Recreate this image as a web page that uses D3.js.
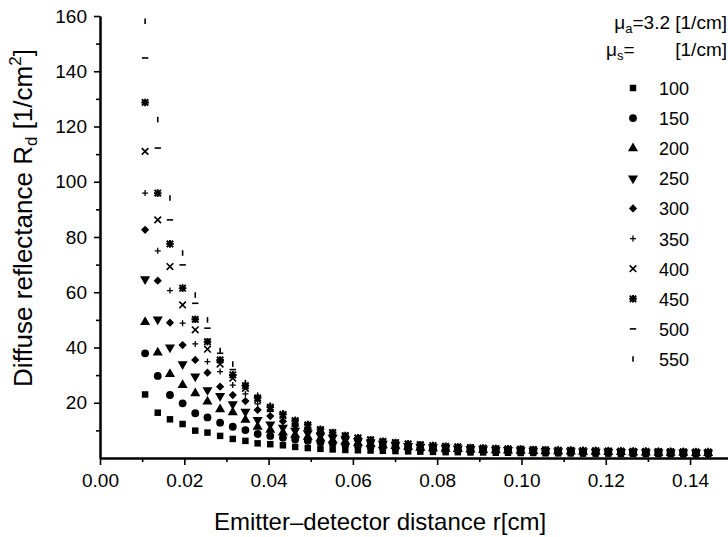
<!DOCTYPE html>
<html>
<head>
<meta charset="utf-8">
<script src="https://cdnjs.cloudflare.com/ajax/libs/d3/7.8.5/d3.min.js"></script>
<style>
  body { margin: 0; background: #fff; }
  text { font-family: "Liberation Sans", Arial, sans-serif; fill: #000; }
</style>
</head>
<body>
<svg id="chart" width="728" height="537"></svg>
<script>
// emitter-detector distance r [cm]
var rValues = [0.0107, 0.0137, 0.0166, 0.0196, 0.0226, 0.0255, 0.0285, 0.0315, 0.0345, 0.0374,
               0.0404, 0.0434, 0.0463, 0.0493, 0.0523, 0.0552, 0.0582, 0.0612, 0.0642, 0.0671,
               0.0701, 0.0731, 0.0760, 0.0790, 0.0820, 0.0849, 0.0879, 0.0909, 0.0939, 0.0968,
               0.0998, 0.1028, 0.1057, 0.1087, 0.1117, 0.1146, 0.1176, 0.1206, 0.1236, 0.1265,
               0.1295, 0.1325, 0.1354, 0.1384, 0.1414, 0.1443];

// diffuse reflectance Rd [1/cm^2], one array per mu_s
var rd100 = [23.0, 16.4, 14.0, 12.3, 9.9, 9.2, 8.0, 6.9, 6.2, 5.3, 5.0, 4.6, 4.0, 3.6, 3.3, 3.1, 2.9, 2.8, 2.7, 2.6,
             2.5, 2.4, 2.3, 2.2, 2.1, 2.1, 2.0, 2.0, 1.9, 1.9, 1.8, 1.8, 1.7, 1.7, 1.7, 1.6, 1.6, 1.6, 1.5, 1.5,
             1.5, 1.5, 1.4, 1.4, 1.4, 1.4];
var rd150 = [37.9, 29.7, 22.8, 19.8, 16.2, 14.7, 12.8, 11.3, 10.1, 8.7, 8.0, 7.3, 6.7, 6.2, 5.7, 5.3, 4.9, 4.5, 4.2, 3.9,
             3.7, 3.5, 3.3, 3.1, 2.9, 2.8, 2.7, 2.6, 2.5, 2.4, 2.3, 2.2, 2.2, 2.1, 2.0, 2.0, 1.9, 1.9, 1.9, 1.8,
             1.8, 1.7, 1.7, 1.7, 1.6, 1.6];
var rd200 = [49.2, 38.2, 30.4, 26.4, 23.4, 20.4, 17.6, 16.5, 13.8, 11.3, 10.2, 9.2, 8.4, 7.7, 7.0, 6.4, 5.9, 5.4, 5.0, 4.6,
             4.3, 4.0, 3.7, 3.5, 3.3, 3.2, 3.0, 2.9, 2.8, 2.7, 2.6, 2.5, 2.4, 2.4, 2.3, 2.2, 2.2, 2.1, 2.1, 2.0,
             2.0, 1.9, 1.9, 1.9, 1.8, 1.8];
var rd250 = [64.7, 50.2, 40.0, 34.0, 29.5, 24.6, 22.5, 19.5, 16.8, 13.8, 12.2, 11.0, 9.9, 9.0, 8.1, 7.4, 6.7, 6.1, 5.6, 5.2,
             4.8, 4.4, 4.1, 3.9, 3.7, 3.5, 3.3, 3.2, 3.0, 2.9, 2.8, 2.7, 2.6, 2.5, 2.5, 2.4, 2.3, 2.3, 2.2, 2.2,
             2.1, 2.1, 2.0, 2.0, 1.9, 1.9];
var rd300 = [82.6, 64.2, 49.0, 40.9, 35.5, 30.9, 25.8, 22.8, 20.6, 17.4, 15.2, 13.3, 11.6, 10.4, 9.2, 8.2, 7.3, 6.6, 6.0, 5.5,
             5.1, 4.7, 4.4, 4.1, 3.9, 3.7, 3.5, 3.3, 3.2, 3.0, 2.9, 2.8, 2.7, 2.6, 2.6, 2.5, 2.4, 2.4, 2.3, 2.3,
             2.2, 2.2, 2.1, 2.1, 2.0, 2.0];
var rd350 = [95.9, 75.0, 60.6, 48.8, 41.3, 34.9, 31.3, 26.4, 23.2, 19.6, 16.9, 14.6, 12.6, 11.2, 9.8, 8.7, 7.7, 6.9, 6.3, 5.8,
             5.3, 4.9, 4.6, 4.3, 4.0, 3.8, 3.6, 3.4, 3.3, 3.1, 3.0, 2.9, 2.8, 2.7, 2.6, 2.6, 2.5, 2.4, 2.4, 2.3,
             2.3, 2.2, 2.2, 2.1, 2.1, 2.0];
var rd400 = [111.0, 86.2, 69.3, 55.4, 46.4, 39.4, 34.0, 28.9, 25.2, 21.1, 17.9, 15.4, 13.2, 11.7, 10.1, 9.0, 7.9, 7.1, 6.5, 5.9,
             5.5, 5.0, 4.7, 4.4, 4.1, 3.9, 3.7, 3.5, 3.4, 3.2, 3.1, 3.0, 2.9, 2.8, 2.7, 2.6, 2.6, 2.5, 2.4, 2.4,
             2.3, 2.3, 2.2, 2.2, 2.1, 2.1];
var rd450 = [128.7, 95.9, 77.5, 61.5, 50.2, 42.1, 35.5, 30.1, 26.2, 21.8, 18.4, 15.8, 13.5, 12.0, 10.3, 9.2, 8.1, 7.3, 6.6, 6.0,
             5.6, 5.1, 4.8, 4.5, 4.2, 4.0, 3.8, 3.6, 3.4, 3.3, 3.2, 3.0, 2.9, 2.8, 2.8, 2.7, 2.6, 2.5, 2.5, 2.4,
             2.4, 2.3, 2.3, 2.2, 2.2, 2.1];
var rd500 = [144.8, 112.2, 86.2, 69.9, 56.0, 47.0, 37.9, 32.0, 26.8, 22.3, 18.8, 16.1, 13.8, 12.3, 10.5, 9.3, 8.2, 7.4, 6.7, 6.1,
             5.7, 5.2, 4.9, 4.6, 4.3, 4.1, 3.9, 3.7, 3.5, 3.4, 3.2, 3.1, 3.0, 2.9, 2.8, 2.7, 2.7, 2.6, 2.5, 2.5,
             2.4, 2.4, 2.3, 2.3, 2.2, 2.2];
var rd550 = [158.1, 122.5, 94.1, 74.2, 59.0, 50.0, 38.9, 34.0, 27.3, 22.7, 19.1, 16.4, 14.0, 12.5, 10.7, 9.5, 8.3, 7.5, 6.8, 6.2,
             5.8, 5.3, 5.0, 4.7, 4.4, 4.2, 4.0, 3.8, 3.6, 3.5, 3.3, 3.2, 3.1, 3.0, 2.9, 2.8, 2.7, 2.7, 2.6, 2.5,
             2.5, 2.4, 2.4, 2.3, 2.3, 2.2];

var musLabels = ["100", "150", "200", "250", "300", "350", "400", "450", "500", "550"];
var markerShapes = ["square", "circle", "triangle", "triangleDown", "diamond", "plus", "cross", "star", "dash", "bar"];
var xTicks = [0, 0.02, 0.04, 0.06, 0.08, 0.10, 0.12, 0.14];
var xMinorTicks = [0.01, 0.03, 0.05, 0.07, 0.09, 0.11, 0.13];
var yTicks = [20, 40, 60, 80, 100, 120, 140, 160];
var yMinorTicks = [10, 30, 50, 70, 90, 110, 130, 150];

var series = [rd100, rd150, rd200, rd250, rd300, rd350, rd400, rd450, rd500, rd550].map(function(vals, i) {
  return { mus: musLabels[i], shape: markerShapes[i],
           points: vals.map(function(v, j) { return { r: rValues[j], rd: v }; }) };
});

var svg = d3.select("#chart");

var x = d3.scaleLinear().domain([0, 0.149]).range([100, 728]);
var y = d3.scaleLinear().domain([0, 160]).range([458, 16]);

// marker glyphs, drawn at the origin
function markerPath(shape) {
  var p = d3.path();
  switch (shape) {
    case "square": return d3.symbol().type(d3.symbolSquare).size(42)();
    case "circle": return d3.symbol().type(d3.symbolCircle).size(48)();
    case "triangle": return d3.symbol().type(d3.symbolTriangle).size(44)();
    case "triangleDown": return d3.symbol().type(d3.symbolTriangle).size(44)();
    case "diamond": return d3.symbol().type(d3.symbolSquare).size(34)();
    case "plus":
      p.moveTo(-3, 0); p.lineTo(3, 0); p.moveTo(0, -3); p.lineTo(0, 3); break;
    case "cross":
      p.moveTo(-3.3, -3.3); p.lineTo(3.3, 3.3); p.moveTo(-3.3, 3.3); p.lineTo(3.3, -3.3); break;
    case "star":
      p.moveTo(-3.2, -3.2); p.lineTo(3.2, 3.2); p.moveTo(-3.2, 3.2); p.lineTo(3.2, -3.2);
      p.moveTo(-3.8, 0); p.lineTo(3.8, 0); p.moveTo(0, -3.8); p.lineTo(0, 3.8); break;
    case "dash":
      p.moveTo(-3.2, 0); p.lineTo(3.2, 0); break;
    case "bar":
      p.moveTo(0, -2.8); p.lineTo(0, 2.8); break;
  }
  return p.toString();
}
var filled = { square: true, circle: true, triangle: true, triangleDown: true, diamond: true };
var turn = { triangleDown: " rotate(180)", diamond: " rotate(45)" };

function styleMarker(sel, shape) {
  sel.attr("d", markerPath(shape))
     .attr("fill", filled[shape] ? "#000" : "none")
     .attr("stroke", filled[shape] ? "none" : "#000")
     .attr("stroke-width", shape == "star" ? 1.9 : (shape == "plus" ? 1.3 : 1.6));
}

// data markers
series.forEach(function(s) {
  svg.append("g").attr("class", "series")
    .selectAll("path")
    .data(s.points)
    .enter().append("path")
    .attr("transform", function(d) {
      return "translate(" + x(d.r) + "," + y(d.rd) + ")" + (turn[s.shape] || "");
    })
    .call(styleMarker, s.shape);
});

// axes
svg.append("g").attr("transform", "translate(0,458)")
  .call(d3.axisBottom(x).tickValues(xTicks).tickFormat(d3.format(".2f")).tickSize(7).tickSizeOuter(0).tickPadding(9));
svg.append("g").attr("transform", "translate(0,458)")
  .call(d3.axisBottom(x).tickValues(xMinorTicks).tickFormat("").tickSize(4).tickSizeOuter(0));
svg.append("g").attr("transform", "translate(100,0)")
  .call(d3.axisLeft(y).tickValues(yTicks).tickSize(6).tickSizeOuter(0).tickPadding(7));
svg.append("g").attr("transform", "translate(100,0)")
  .call(d3.axisLeft(y).tickValues(yMinorTicks).tickFormat("").tickSize(4).tickSizeOuter(0));

svg.selectAll(".domain").attr("stroke", "#000").attr("stroke-width", 2);
svg.selectAll(".tick line").attr("stroke", "#000").attr("stroke-width", 1.6);
svg.selectAll(".tick text").style("font-family", "'Liberation Sans', Arial, sans-serif").style("font-size", "19px");

// axis titles
svg.append("text")
  .attr("x", 380).attr("y", 530)
  .attr("text-anchor", "middle")
  .style("font-size", "24px")
  .text("Emitter\u2013detector distance r[cm]");

var yTitle = svg.append("text")
  .attr("transform", "translate(32,218) rotate(-90)")
  .attr("text-anchor", "middle")
  .style("font-size", "26px");
yTitle.append("tspan").text("Diffuse reflectance R");
yTitle.append("tspan").attr("dy", 5).style("font-size", "17px").text("d");
yTitle.append("tspan").attr("dy", -5).text(" [1/cm");
yTitle.append("tspan").attr("dy", -11).style("font-size", "17px").text("2");
yTitle.append("tspan").attr("dy", 11).text("]");

// legend
var legend = svg.append("g");
var head1 = legend.append("text").attr("x", 727).attr("y", 29).attr("text-anchor", "end").style("font-size", "19px");
head1.append("tspan").text("\u03bc");
head1.append("tspan").attr("dy", 4).style("font-size", "13px").text("a");
head1.append("tspan").attr("dy", -4).text("=3.2 [1/cm]");
var head2 = legend.append("text").attr("x", 606).attr("y", 56).style("font-size", "19px");
head2.append("tspan").text("\u03bc");
head2.append("tspan").attr("dy", 4).style("font-size", "13px").text("s");
head2.append("tspan").attr("dy", -4).text("=");
legend.append("text").attr("x", 727).attr("y", 56).attr("text-anchor", "end")
  .style("font-size", "19px").text("[1/cm]");

var legendY = d3.scalePoint().domain(musLabels).range([88, 359]);
var rows = legend.selectAll("g.row")
  .data(series)
  .enter().append("g")
  .attr("class", "row")
  .attr("transform", function(d) { return "translate(0," + legendY(d.mus) + ")"; });
rows.append("path")
  .attr("transform", function(d) { return "translate(633,0)" + (turn[d.shape] || ""); })
  .each(function(d) { d3.select(this).call(styleMarker, d.shape); });
rows.append("text")
  .attr("x", 659).attr("y", 7)
  .style("font-size", "18px")
  .text(function(d) { return d.mus; });
</script>
</body>
</html>
